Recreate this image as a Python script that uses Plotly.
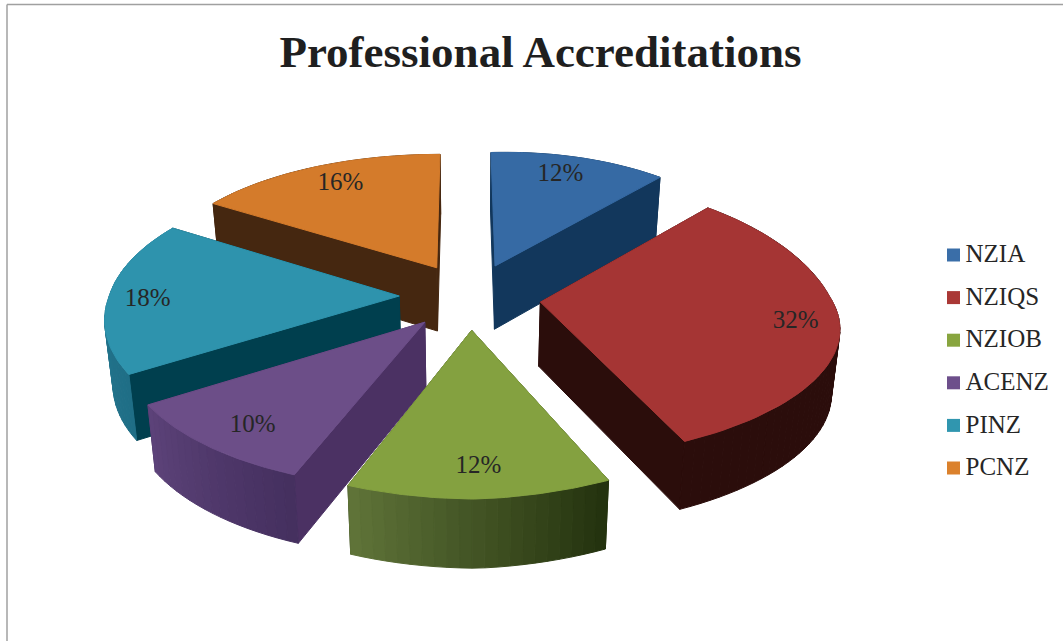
import math
import plotly.graph_objects as go

# Accreditation shares, in percent, clockwise from twelve o'clock
categories = ["NZIA", "NZIQS", "NZIOB", "ACENZ", "PINZ", "PCNZ"]
shares = [12, 32, 12, 10, 18, 16]

top_colors = ["#366AA4", "#A53534", "#84A140", "#6C4E88", "#2E93AD", "#D47B2B"]
cut_colors = ["#12375C", "#2B0D0B", "#2B3A14", "#4B3163", "#003F4E", "#452710"]
rim_start = ["#12375C", "#2B0D0B", "#5F7338", "#5C4279", "#2B8199", "#6B3C14"]
rim_end = ["#12375C", "#2B0D0B", "#24330F", "#45305F", "#1F6E86", "#452710"]
key_colors = ["#3A6EA8", "#AA3836", "#88A53F", "#6D4F8B", "#3096AF", "#DB812C"]

# Projection of the pie's ground plane onto the page
CX, CY = 470.0, 296.0
SCALE_X, SCALE_Y = 290.0, 135.8
PERSPECTIVE = 0.135
EXPLODE = 0.244
DEPTH = 64.0
DEPTH_POWER = 0.42
CONVERGE = 0.023
FRONT_SHIFT, FRONT_WIDEN, FRONT_LIFT = 7.0, 8.0, 12.0
BACK_RIGHT_X, BACK_RIGHT_Y = 12.0, 5.0
BACK_LEFT_X = 5.0
STRIPS_PER_DEGREE = 0.5

# Labels sit at a common radius, then get a small offset in pixels
LABEL_RADIUS = 0.83
label_nudge = [(-6, 0), (8, 0), (1, 0), (5, 3), (-11, 4), (6, 1)]

# Key beside the pie
KEY_X, KEY_TEXT_X, KEY_TOP, KEY_STEP = 953.5, 965.5, 255.0, 42.6

# Back-to-front drawing order so nearer slices cover farther ones
draw_order = [5, 0, 4, 1, 3, 2]


def project(u, v, lower=False):
    w = 1 + PERSPECTIVE * v
    x = CX + SCALE_X * u / w
    y = CY - SCALE_Y * v / w
    x += FRONT_SHIFT * max(-v, 0) + FRONT_WIDEN * u * max(-v, 0)
    if u > 0:
        x -= BACK_RIGHT_X * u * max(v, 0)
        y -= FRONT_LIFT * u * max(-v, 0) + BACK_RIGHT_Y * u * max(v, 0)
    else:
        x += BACK_LEFT_X * u * max(v, 0)
    if lower:
        x = CX + (x - CX) * (1 - CONVERGE)
        y += DEPTH / w ** DEPTH_POWER
    return x, y


def ground(angle, radius, offset):
    a = math.radians(angle)
    m = math.radians(offset)
    return (EXPLODE * math.sin(m) + radius * math.sin(a),
            EXPLODE * math.cos(m) + radius * math.cos(a))


def mix(c1, c2, t):
    p = [int(c1[i:i + 2], 16) for i in (1, 3, 5)]
    q = [int(c2[i:i + 2], 16) for i in (1, 3, 5)]
    return "rgb(%d,%d,%d)" % tuple(round(a + (b - a) * t) for a, b in zip(p, q))


def polygon(points, color, edge=1.0):
    xs = [p[0] for p in points] + [points[0][0]]
    ys = [p[1] for p in points] + [points[0][1]]
    return go.Scatter(x=xs, y=ys, mode="lines", fill="toself", fillcolor=color,
                      line=dict(color=color, width=edge), hoverinfo="skip",
                      showlegend=False)


fig = go.Figure()

spans = []
start = 0.0
for share in shares:
    end = start + share * 3.6
    spans.append((start, end))
    start = end

for idx in draw_order:
    a0, a1 = spans[idx]
    mid = (a0 + a1) / 2
    tip_g = ground(0, 0, mid)
    walls = []

    # Two straight cut faces running from the tip to the rim
    for edge in (a0, a1):
        rim_g = ground(edge, 1, mid)
        quad = [project(*tip_g), project(*rim_g),
                project(*rim_g, True), project(*tip_g, True)]
        walls.append(((tip_g[1] + rim_g[1]) / 2, quad, cut_colors[idx]))

    # Curved outer rim, shaded strip by strip
    n = max(4, int((a1 - a0) * STRIPS_PER_DEGREE))
    for k in range(n):
        b0 = a0 + (a1 - a0) * k / n
        b1 = a0 + (a1 - a0) * (k + 1) / n
        g0, g1 = ground(b0, 1, mid), ground(b1, 1, mid)
        quad = [project(*g0), project(*g1), project(*g1, True), project(*g0, True)]
        # shading runs left to right across the page
        t = (n - 1 - k) / (n - 1) if math.sin(math.radians(mid)) < 0 or abs(mid - 180) < 1 else k / (n - 1)
        walls.append(((g0[1] + g1[1]) / 2, quad, mix(rim_start[idx], rim_end[idx], t)))

    for _, quad, color in sorted(walls, key=lambda item: -item[0]):
        fig.add_trace(polygon(quad, color))

    # Top face
    arc = [project(*ground(a0 + (a1 - a0) * k / 60, 1, mid)) for k in range(61)]
    fig.add_trace(polygon([project(*tip_g)] + arc, top_colors[idx]))

# Percentage labels on the top faces
label_xy = []
for (a0, a1), (dx, dy) in zip(spans, label_nudge):
    mid = (a0 + a1) / 2
    x, y = project(*ground(mid, LABEL_RADIUS, mid))
    label_xy.append((x + dx, y + dy))
fig.add_trace(go.Scatter(
    x=[p[0] for p in label_xy], y=[p[1] for p in label_xy], mode="text",
    text=[f"{s}%" for s in shares], textposition="middle center",
    textfont=dict(family="Liberation Serif", size=25, color="#262626"),
    hoverinfo="skip", showlegend=False))

# Key entries: one coloured square and name per category
key_y = [KEY_TOP + i * KEY_STEP for i in range(len(categories))]
fig.add_trace(go.Scatter(
    x=[KEY_X] * len(categories), y=key_y, mode="markers",
    marker=dict(symbol="square", size=13, color=key_colors),
    hoverinfo="skip", showlegend=False))
fig.add_trace(go.Scatter(
    x=[KEY_TEXT_X] * len(categories), y=[y + 1 for y in key_y], mode="text", text=categories,
    textposition="middle right",
    textfont=dict(family="Liberation Serif", size=25, color="#262626"),
    hoverinfo="skip", showlegend=False, cliponaxis=False))

fig.update_layout(
    width=1063, height=641, margin=dict(l=0, r=0, t=0, b=0),
    paper_bgcolor="white", plot_bgcolor="white",
    xaxis=dict(range=[0, 1063], visible=False, fixedrange=True),
    yaxis=dict(range=[641, 0], visible=False, fixedrange=True),
    title=dict(text="<b>Professional Accreditations</b>", x=540.5 / 1063, xanchor="center",
               y=1 - 51 / 641, yanchor="middle",
               font=dict(family="Liberation Serif", size=45, color="#1F1F1F")),
    shapes=[
        dict(type="line", xref="paper", yref="paper", x0=7 / 1063, x1=7 / 1063, y0=0, y1=1 - 4.5 / 641,
             line=dict(color="#A0A0A0", width=1.5)),
        dict(type="line", xref="paper", yref="paper", x0=7 / 1063, x1=1, y0=1 - 4.5 / 641, y1=1 - 4.5 / 641,
             line=dict(color="#A0A0A0", width=1.5)),
    ],
)

fig.write_html("out.html", config=dict(displayModeBar=False))
